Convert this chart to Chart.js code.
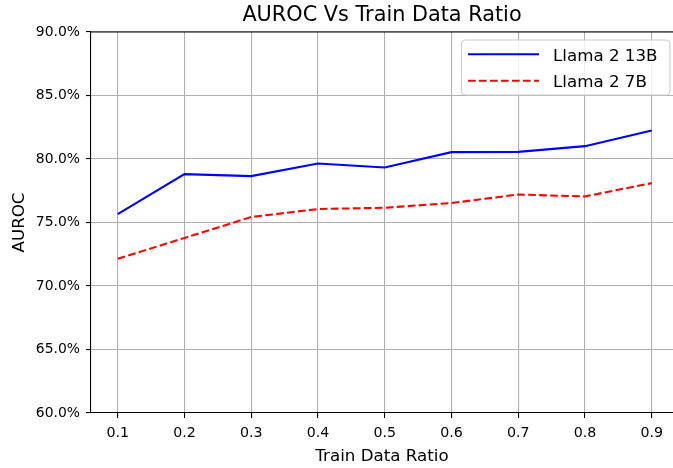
<!DOCTYPE html>
<html>
<head>
<meta charset="utf-8">
<script src="https://cdn.jsdelivr.net/npm/chart.js@4"></script>
<style>
html,body{margin:0;padding:0;background:#fff;}
#wrap{width:673px;height:468px;}
</style>
</head>
<body>
<div id="wrap"><canvas id="c" width="673" height="468"></canvas></div>
<script>
const xValues = [0.1, 0.2, 0.3, 0.4, 0.5, 0.6, 0.7, 0.8, 0.9];
const llama13b = [75.66, 78.81, 78.65, 79.64, 79.33, 80.54, 80.56, 81.01, 82.24];
const llama7b = [72.15, 73.78, 75.43, 76.06, 76.16, 76.53, 77.20, 77.05, 78.10];
const seriesLabels = ['Llama 2 13B', 'Llama 2 7B'];
const xTicks = [0.1, 0.2, 0.3, 0.4, 0.5, 0.6, 0.7, 0.8, 0.9];
const yTicks = [60, 65, 70, 75, 80, 85, 90];

const FONT = '"DejaVu Sans", sans-serif';
const toPts = arr => arr.map((v, i) => ({x: xValues[i], y: v}));

const extras = {
  id: 'extras',
  afterDraw(chart) {
    const ctx = chart.ctx, a = chart.chartArea;
    ctx.save();
    // top spine
    ctx.strokeStyle = '#000';
    ctx.lineWidth = 1.1;
    ctx.beginPath();
    ctx.moveTo(a.left, a.top);
    ctx.lineTo(a.right, a.top);
    ctx.stroke();
    // legend
    const bx = 461.5, by = 40, bw = 208.5, bh = 55, r = 4;
    ctx.beginPath();
    ctx.moveTo(bx + r, by);
    ctx.lineTo(bx + bw - r, by);
    ctx.arcTo(bx + bw, by, bx + bw, by + r, r);
    ctx.lineTo(bx + bw, by + bh - r);
    ctx.arcTo(bx + bw, by + bh, bx + bw - r, by + bh, r);
    ctx.lineTo(bx + r, by + bh);
    ctx.arcTo(bx, by + bh, bx, by + bh - r, r);
    ctx.lineTo(bx, by + r);
    ctx.arcTo(bx, by, bx + r, by, r);
    ctx.closePath();
    ctx.fillStyle = 'rgba(255,255,255,0.8)';
    ctx.fill();
    ctx.strokeStyle = '#cccccc';
    ctx.lineWidth = 1.1;
    ctx.stroke();
    const rows = [54.3, 80.7];
    chart.data.datasets.forEach((ds, i) => {
      const y = rows[i];
      ctx.strokeStyle = ds.borderColor;
      ctx.lineWidth = ds.borderWidth;
      ctx.setLineDash(ds.borderDash || []);
      ctx.beginPath();
      ctx.moveTo(468, y);
      ctx.lineTo(539, y);
      ctx.stroke();
      ctx.setLineDash([]);
      ctx.fillStyle = '#000';
      ctx.font = '16.7px ' + FONT;
      ctx.textBaseline = 'alphabetic';
      ctx.textAlign = 'left';
      ctx.fillText(ds.label, 553, y + 6.5);
    });
    ctx.restore();
  }
};

new Chart(document.getElementById('c'), {
  type: 'line',
  data: {
    datasets: [
      {label: seriesLabels[0], data: toPts(llama13b), borderColor: '#0000ff', borderWidth: 2.08, pointRadius: 0, fill: false, tension: 0},
      {label: seriesLabels[1], data: toPts(llama7b), borderColor: '#ff0000', borderWidth: 2.08, borderDash: [7.7, 3.3], pointRadius: 0, fill: false, tension: 0}
    ]
  },
  plugins: [extras],
  options: {
    responsive: false,
    animation: false,
    devicePixelRatio: 1,
    layout: {padding: 0},
    plugins: {
      legend: {display: false},
      tooltip: {enabled: false},
      title: {
        display: true,
        text: 'AUROC Vs Train Data Ratio',
        fullSize: false,
        color: '#000',
        font: {family: FONT, size: 20.8, weight: 'normal', lineHeight: 1.2},
        padding: {top: 3.5, bottom: 3.5}
      }
    },
    scales: {
      x: {
        type: 'linear',
        min: 0.06,
        max: 0.9319,
        afterFit(s) { s.height = 55; },
        afterBuildTicks(s) { s.ticks = xTicks.map(v => ({value: v})); },
        ticks: {
          color: '#000',
          font: {family: FONT, size: 14.2},
          padding: 7,
          maxRotation: 0,
          autoSkip: false,
          callback: v => Number(v).toFixed(1)
        },
        grid: {color: '#b0b0b0', lineWidth: 1.1, tickColor: '#000', tickLength: 5, tickWidth: 1.1},
        border: {display: true, color: '#000', width: 1.1},
        title: {display: true, text: 'Train Data Ratio', color: '#000', font: {family: FONT, size: 16.7, lineHeight: 1.2}, padding: {top: 0, bottom: 1}}
      },
      y: {
        type: 'linear',
        min: 60,
        max: 90,
        afterFit(s) { s.width = 91; },
        afterBuildTicks(s) { s.ticks = yTicks.map(v => ({value: v})); },
        ticks: {
          color: '#000',
          font: {family: FONT, size: 13.9},
          padding: 6,
          callback: v => Number(v).toFixed(1) + '%'
        },
        grid: {color: '#b0b0b0', lineWidth: 1.1, tickColor: '#000', tickLength: 5, tickWidth: 1.1},
        border: {display: true, color: '#000', width: 1.1},
        title: {display: true, text: 'AUROC', color: '#000', font: {family: FONT, size: 16.7, lineHeight: 1.2}, padding: {top: 10, bottom: 0}}
      }
    }
  }
});
</script>
</body>
</html>
